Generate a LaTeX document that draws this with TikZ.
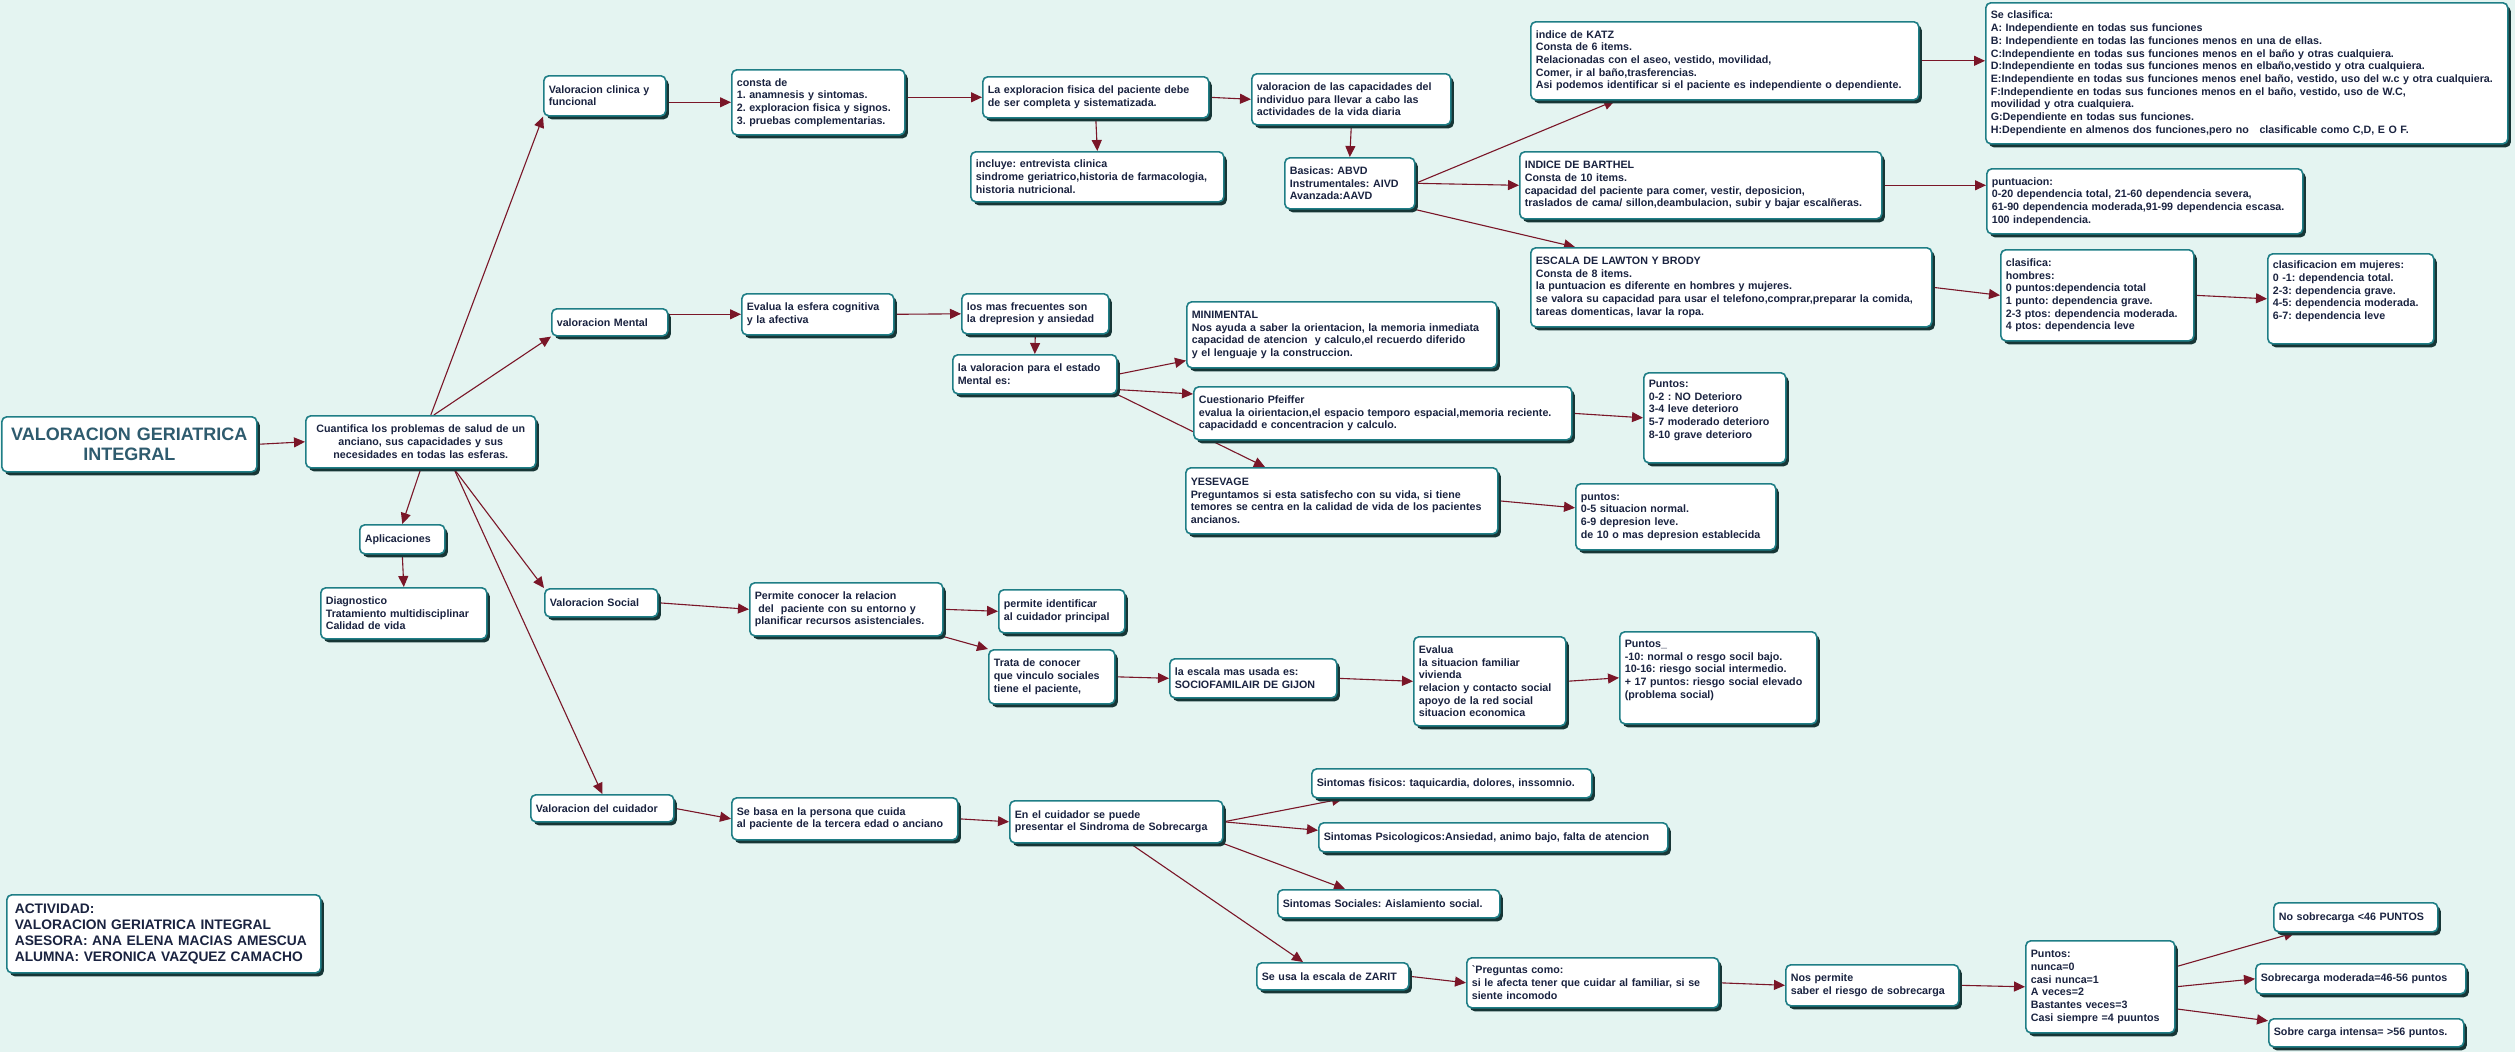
\documentclass[tikz,border=0pt]{standalone}
\usepackage{fontspec}
\setmainfont{Liberation Sans}
\frenchspacing
\usetikzlibrary{arrows.meta,shadows,backgrounds}
\definecolor{bgmint}{HTML}{E4F4F1}
\definecolor{boxline}{HTML}{1F7E86}
\definecolor{boxshade}{HTML}{173636}
\definecolor{ink}{HTML}{1A2340}
\definecolor{titleink}{HTML}{2E5B6E}
\definecolor{arrowred}{HTML}{7A1628}
\tikzset{
  mapbox/.style={draw=boxline,line width=1.6pt,fill=white,rounded corners=5pt,
    inner xsep=5pt,inner ysep=0pt,anchor=north west,align=left,text=ink,
    font=\bfseries\fontsize{10.7}{12.7}\selectfont,
    drop shadow={shadow xshift=3pt,shadow yshift=-3.5pt,fill=boxshade,opacity=1}},
  maplink/.style={->,draw=arrowred,line width=1.1pt}
}
\begin{document}
\begin{tikzpicture}[x=1pt,y=-1pt,>={Triangle[length=11pt,width=10pt]}]
 \useasboundingbox (0,0) rectangle (2515,1052);
 \begin{scope}[on background layer]
   \fill[bgmint] (0,0) rectangle (2515,1052);
 \end{scope}
 \node[mapbox,text width=245pt,minimum height=55pt,align=center,text=titleink,
   font=\bfseries\fontsize{18}{20}\selectfont] (title) at (1,416)
   {VALORACION GERIATRICA\\INTEGRAL};
 \node[mapbox,text width=220pt,minimum height=52pt,align=center] (cuant) at (305,415)
   {Cuantifica los problemas de salud de un\\anciano, sus capacidades y sus\\necesidades en todas las esferas.};
 \node[mapbox,text width=75pt,minimum height=29pt] (apl) at (359,524) {Aplicaciones};
 \node[mapbox,text width=156pt,minimum height=51pt] (diag) at (320,587)
   {Diagnostico\\Tratamiento multidisciplinar\\Calidad de vida};
 \node[mapbox,text width=112pt,minimum height=40pt] (clin) at (543,75)
   {Valoracion clinica y\\funcional};
 \node[mapbox,text width=106pt,minimum height=27pt] (mental) at (551,308) {valoracion Mental};
 \node[mapbox,text width=103pt,minimum height=28pt] (social) at (544,588) {Valoracion Social};
 \node[mapbox,text width=133pt,minimum height=27pt] (cuid) at (530,794) {Valoracion del cuidador};
 \node[mapbox,text width=163pt,minimum height=65pt] (consta) at (731,69)
   {consta de\\1. anamnesis y sintomas.\\2. exploracion fisica y signos.\\3. pruebas complementarias.};
 \node[mapbox,text width=216pt,minimum height=41pt] (expl) at (982,76)
   {La exploracion fisica del paciente debe\\de ser completa y sistematizada.};
 \node[mapbox,text width=243pt,minimum height=50pt] (incl) at (970,151)
   {incluye: entrevista clinica\\sindrome geriatrico,historia de farmacologia,\\historia nutricional.};
 \node[mapbox,text width=189pt,minimum height=51pt] (cap) at (1251,73)
   {valoracion de las capacidades del\\individuo para llevar a cabo las\\actividades de la vida diaria};
 \node[mapbox,text width=120pt,minimum height=51pt] (bas) at (1284,157)
   {Basicas: ABVD\\Instrumentales: AIVD\\Avanzada:AAVD};
 \node[mapbox,text width=378pt,minimum height=78pt] (katz) at (1530,21)
   {indice de KATZ\\Consta de 6 items.\\Relacionadas con el aseo, vestido, movilidad,\\Comer, ir al baño,trasferencias.\\Asi podemos identificar si el paciente es independiente o dependiente.};
 \node[mapbox,text width=512pt,minimum height=141pt] (clas) at (1985,2)
   {Se clasifica:\\A: Independiente en todas sus funciones\\B: Independiente en todas las funciones menos en una de ellas.\\C:Independiente en todas sus funciones menos en el baño y otras cualquiera.\\D:Independiente en todas sus funciones menos en elbaño,vestido y otra cualquiera.\\E:Independiente en todas sus funciones menos enel baño, vestido, uso del w.c y otra cualquiera.\\F:Independiente en todas sus funciones menos en el baño, vestido, uso de W.C,\\movilidad y otra cualquiera.\\G:Dependiente en todas sus funciones.\\H:Dependiente en almenos dos funciones,pero no\ \ \ clasificable como C,D, E O F.};
 \node[mapbox,text width=352pt,minimum height=67pt] (barth) at (1519,151)
   {INDICE DE BARTHEL\\Consta de 10 items.\\capacidad del paciente para comer, vestir, deposicion,\\traslados de cama/ sillon,deambulacion, subir y bajar escalñeras.};
 \node[mapbox,text width=306pt,minimum height=65pt] (punt) at (1986,168)
   {puntuacion:\\0-20 dependencia total, 21-60 dependencia severa,\\61-90 dependencia moderada,91-99 dependencia escasa.\\100 independencia.};
 \node[mapbox,text width=391pt,minimum height=79pt] (law) at (1530,247)
   {ESCALA DE LAWTON Y BRODY\\Consta de 8 items.\\la puntuacion es diferente en hombres y mujeres.\\se valora su capacidad para usar el telefono,comprar,preparar la comida,\\tareas domenticas, lavar la ropa.};
 \node[mapbox,text width=183pt,minimum height=91pt] (hom) at (2000,249)
   {clasifica:\\hombres:\\0 puntos:dependencia total\\1 punto: dependencia grave.\\2-3 ptos: dependencia moderada.\\4 ptos: dependencia leve};
 \node[mapbox,text width=156pt,minimum height=90pt,text depth=68pt] (muj) at (2267,253)
   {clasificacion em mujeres:\\0 -1: dependencia total.\\2-3: dependencia grave.\\4-5: dependencia moderada.\\6-7: dependencia leve};
 \node[mapbox,text width=142pt,minimum height=41pt] (esf) at (741,293)
   {Evalua la esfera cognitiva\\y la afectiva};
 \node[mapbox,text width=137pt,minimum height=40pt] (frec) at (961,293)
   {los mas frecuentes son\\la drepresion y ansiedad};
 \node[mapbox,text width=154pt,minimum height=39pt] (est) at (952,354)
   {la valoracion para el estado\\Mental es:};
 \node[mapbox,text width=300pt,minimum height=66pt] (mini) at (1186,301)
   {MINIMENTAL\\Nos ayuda a saber la orientacion, la memoria inmediata\\capacidad de atencion\ \ y calculo,el recuerdo diferido\\y el lenguaje y la construccion.};
 \node[mapbox,text width=368pt,minimum height=53pt] (pfeif) at (1193,386)
   {Cuestionario Pfeiffer\\evalua la oirientacion,el espacio temporo espacial,memoria reciente.\\capacidadd e concentracion y calculo.};
 \node[mapbox,text width=302pt,minimum height=66pt] (yes) at (1185,467)
   {YESEVAGE\\Preguntamos si esta satisfecho con su vida, si tiene\\temores se centra en la calidad de vida de los pacientes\\ancianos.};
 \node[mapbox,text width=132pt,minimum height=90pt,text depth=68pt] (p02) at (1643,372)
   {Puntos:\\0-2 : NO Deterioro\\3-4 leve deterioro\\5-7 moderado deterioro\\8-10 grave deterioro};
 \node[mapbox,text width=190pt,minimum height=66pt] (p05) at (1575,483)
   {puntos:\\0-5 situacion normal.\\6-9 depresion leve.\\de 10 o mas depresion establecida};
 \node[mapbox,text width=183pt,minimum height=53pt] (perm) at (749,582)
   {Permite conocer la relacion\\\ del\ \ paciente con su entorno y\\planificar recursos asistenciales.};
 \node[mapbox,text width=116pt,minimum height=43pt] (ident) at (998,589)
   {permite identificar\\al cuidador principal};
 \node[mapbox,text width=116pt,minimum height=54pt] (trata) at (988,649)
   {Trata de conocer\\que vinculo sociales\\tiene el paciente,};
 \node[mapbox,text width=157pt,minimum height=39pt] (esc) at (1169,658)
   {la escala mas usada es:\\SOCIOFAMILAIR DE GIJON};
 \node[mapbox,text width=142pt,minimum height=89pt] (eva) at (1413,636)
   {Evalua\\la situacion familiar\\vivienda\\relacion y contacto social\\apoyo de la red social\\situacion economica};
 \node[mapbox,text width=187pt,minimum height=92pt,text depth=68pt] (ptsb) at (1619,631)
   {Puntos\_\\-10: normal o resgo socil bajo.\\10-16: riesgo social intermedio.\\+ 17 puntos: riesgo social elevado\\(problema social)};
 \node[mapbox,text width=216pt,minimum height=42pt] (basa) at (731,797)
   {Se basa en la persona que cuida\\al paciente de la tercera edad o anciano};
 \node[mapbox,text width=203pt,minimum height=42pt] (encu) at (1009,800)
   {En el cuidador se puede\\presentar el Sindroma de Sobrecarga};
 \node[mapbox,text width=270pt,minimum height=29pt] (fis) at (1311,768)
   {Sintomas fisicos: taquicardia, dolores, inssomnio.};
 \node[mapbox,text width=339pt,minimum height=29pt] (psi) at (1318,822)
   {Sintomas Psicologicos:Ansiedad, animo bajo, falta de atencion};
 \node[mapbox,text width=212pt,minimum height=28pt] (socs) at (1277,889)
   {Sintomas Sociales: Aislamiento social.};
 \node[mapbox,text width=142pt,minimum height=27pt] (zar) at (1256,962)
   {Se usa la escala de ZARIT};
 \node[mapbox,text width=242pt,minimum height=50pt] (preg) at (1466,957)
   {\textasciigrave Preguntas como:\\si le afecta tener que cuidar al familiar, si se\\siente incomodo};
 \node[mapbox,text width=163pt,minimum height=41pt] (nos) at (1785,964)
   {Nos permite\\saber el riesgo de sobrecarga};
 \node[mapbox,text width=139pt,minimum height=92pt] (pts2) at (2025,940)
   {Puntos:\\nunca=0\\casi nunca=1\\A veces=2\\Bastantes veces=3\\Casi siempre =4 puuntos};
 \node[mapbox,text width=154pt,minimum height=29pt] (nosc) at (2273,902)
   {No sobrecarga <46 PUNTOS};
 \node[mapbox,text width=200pt,minimum height=30pt] (mod) at (2255,963)
   {Sobrecarga moderada=46-56 puntos};
 \node[mapbox,text width=185pt,minimum height=28pt] (int) at (2268,1018)
   {Sobre carga intensa= >56 puntos.};
 \node[mapbox,text width=298pt,minimum height=78pt,inner xsep=8pt,
   font=\bfseries\fontsize{13.8}{16}\selectfont] (act) at (6,894)
   {ACTIVIDAD:\\VALORACION GERIATRICA INTEGRAL\\ASESORA: ANA ELENA MACIAS AMESCUA\\ALUMNA: VERONICA VAZQUEZ CAMACHO};
 \begin{scope}[on background layer]
   \draw[maplink] (title.east) -- (cuant.west);
   \draw[maplink] ([xshift=10pt]cuant.north) -- (clin.south west);
   \draw[maplink] ([xshift=13pt]cuant.north) -- (mental.south west);
   \draw[maplink] (cuant.south) -- (apl.north);
   \draw[maplink] (apl.south) -- (diag.north);
   \draw[maplink] ([xshift=33pt]cuant.south) -- (social.north west);
   \draw[maplink] ([xshift=33pt]cuant.south) -- (cuid.north);
   \draw[maplink] (consta.west -| clin.east) -- (consta.west);
   \draw[maplink] (expl.west -| consta.east) -- (expl.west);
   \draw[maplink] (expl.south) -- (incl.north);
   \draw[maplink] (expl.east) -- (cap.west);
   \draw[maplink] (cap.south) -- (bas.north);
   \draw[maplink] (bas.east) -- ([xshift=85pt]katz.south west);
   \draw[maplink] (bas.east) -- (barth.west);
   \draw[maplink] (bas.south east) -- ([xshift=45pt]law.north west);
   \draw[maplink] (katz.east) -- (katz.east -| clas.west);
   \draw[maplink] (barth.east) -- (barth.east -| punt.west);
   \draw[maplink] (law.east) -- (hom.west);
   \draw[maplink] (hom.east) -- (muj.west);
   \draw[maplink] (mental.east |- esf.west) -- (esf.west);
   \draw[maplink] (esf.east) -- (frec.west);
   \draw[maplink] (frec.south) -- (est.north);
   \draw[maplink] (est.east) -- ([yshift=8pt]mini.south west);
   \draw[maplink] ([yshift=5pt]est.south east) -- ([yshift=-8pt]pfeif.north west);
   \draw[maplink] (est.south east) -- ([xshift=80pt]yes.north west);
   \draw[maplink] (pfeif.east) -- (p02.west);
   \draw[maplink] (yes.east) -- ([yshift=9pt]p05.west);
   \draw[maplink] (social.east) -- (perm.west);
   \draw[maplink] (perm.east) -- (ident.west);
   \draw[maplink] (perm.south east) -- (trata.north west);
   \draw[maplink] (trata.east) -- (esc.west);
   \draw[maplink] (esc.east) -- (eva.west);
   \draw[maplink] (eva.east) -- (ptsb.west);
   \draw[maplink] (cuid.east) -- (basa.west);
   \draw[maplink] (basa.east) -- (encu.west);
   \draw[maplink] (encu.east) -- ([xshift=32pt]fis.south west);
   \draw[maplink] (encu.east) -- ([yshift=7pt]psi.west);
   \draw[maplink] (encu.south east) -- ([xshift=68pt]socs.north west);
   \draw[maplink] ([xshift=14pt]encu.south) -- ([xshift=47pt]zar.north west);
   \draw[maplink] (zar.east) -- (preg.west);
   \draw[maplink] (preg.east) -- (nos.west);
   \draw[maplink] (nos.east) -- (pts2.west);
   \draw[maplink] ([yshift=20pt]pts2.east) -- ([xshift=22pt]nosc.south west);
   \draw[maplink] (pts2.east) -- (mod.west);
   \draw[maplink] ([yshift=-22pt]pts2.east) -- ([yshift=12pt]int.west);
 \end{scope}
\end{tikzpicture}
\end{document}
